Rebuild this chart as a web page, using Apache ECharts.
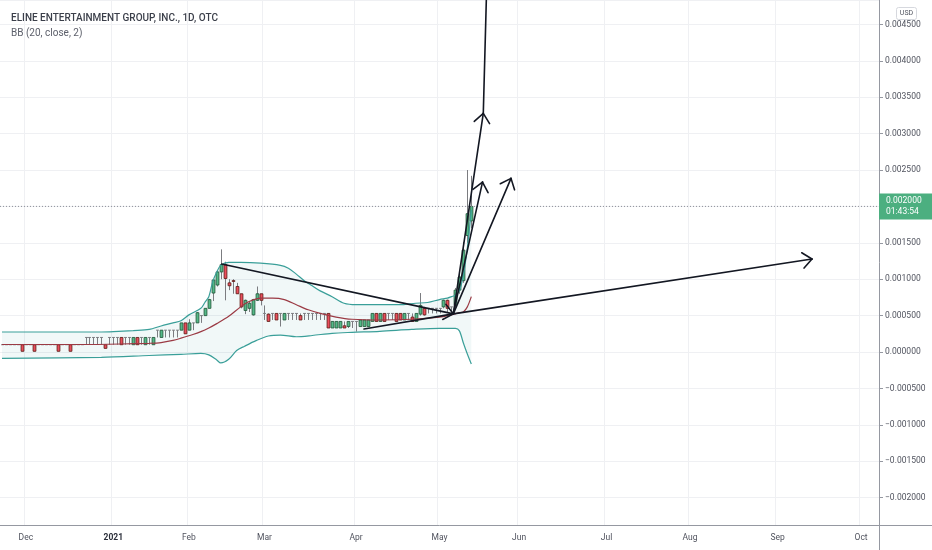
<!DOCTYPE html>
<html>
<head>
<meta charset="utf-8">
<script src="https://cdn.jsdelivr.net/npm/echarts@6/dist/echarts.min.js"></script>
<style>
  html, body { margin: 0; padding: 0; background: #fff; }
  #chart { width: 932px; height: 550px; }
</style>
</head>
<body>
<div id="chart"></div>
<script>
// trading calendar (weekdays minus exchange holidays)
const firstDay = '2020-11-20';
const barCount = 221;
const holidays = ['2020-11-26', '2020-12-25', '2021-01-01', '2021-01-18', '2021-02-15',
  '2021-04-02', '2021-05-31', '2021-07-05', '2021-09-06'];

const monthStarts = ['2020-12-01', '2021-01-04', '2021-02-01', '2021-03-01', '2021-04-01', '2021-05-03',
  '2021-06-01', '2021-07-01', '2021-08-02', '2021-09-01', '2021-10-01'];
const monthLabels = ['Dec', '2021', 'Feb', 'Mar', 'Apr', 'May', 'Jun', 'Jul', 'Aug', 'Sep', 'Oct'];

// daily OHLC from 2020-11-20
const opens = [
  .0001, .0001, .0001, .0001, .0001, .0001, .0001, .0001, .0001, .0001,
  .0001, .0001, .0001, .0001, .0001, .0001, .0001, .0001, .0001, .0001,
  .0001, .0002, .0002, .0002, .0002, .0002, .0001, .0002, .0002, .0002,
  .0002, .0002, .0002, .0001, .0002, .0002, .0001, .0002, .0001, .0003,
  .0002, .0003, .0003, .0003, .0003, .0003, .0004, .0003, .0004, .0004,
  .0005, .0005, .0006, .00081, .00092, .0011, .0012, .00095, .00098, .0009,
  .0008, .00057, .0006, .00051, .00071, .0008, .00053, .00052, .00053, .00053,
  .00053, .00044, .00053, .00053, .00053, .0005, .00053, .00053, .00053, .00053,
  .00053, .00053, .00053, .00033, .00033, .00033, .00036, .00035, .00042, .00042,
  .00035, .00035, .00035, .00042, .00053, .00042, .00053, .00053, .00053, .00053,
  .00053, .00044, .00053, .00048, .00042, .00052, .0006, .0006, .0006, .0006,
  .0006, .00062, .00071, .00062, .00065, .00085, .00098, .0016, .0018
];
const highs = [
  .0001, .0001, .0001, .0001, .0001, .0001, .0001, .0001, .0001, .0001,
  .0001, .0001, .0001, .0001, .0001, .0001, .0001, .0001, .0001, .0001,
  .0001, .0002, .0002, .0002, .0002, .0002, .0001, .0002, .0002, .0002,
  .0002, .0002, .0002, .0002, .0002, .0002, .0002, .0002, .0002, .0003,
  .0003, .0003, .0003, .0003, .0003, .0004, .0004, .00045, .0004, .00055,
  .0005, .0006, .00073, .001, .00112, .00141, .00124, .001, .001, .00095,
  .0008, .00072, .0007, .00073, .0009, .0008, .00064, .00053, .00053, .00053,
  .00053, .00053, .00053, .00053, .00053, .00053, .00053, .00053, .00053, .00053,
  .00053, .00053, .00053, .00042, .00042, .00042, .00042, .00042, .00042, .00042,
  .00044, .00044, .00044, .00053, .00053, .00053, .00053, .00053, .00053, .00053,
  .00053, .00053, .00053, .00053, .00053, .00081, .00062, .0006, .0006, .0006,
  .0006, .00072, .00072, .00062, .00088, .00106, .00151, .0025, .00242
];
const lows = [
  .0001, .0001, .0001, .0001, .0001, .00001, .0001, .0001, .00001, .0001,
  .0001, .0001, .0001, .0001, .00001, .0001, .0001, .00001, .0001, .0001,
  .0001, .0001, .0001, .0001, .0001, .0001, .00005, .0001, .0001, .0001,
  .0001, .0001, .0001, .0001, .0001, .0001, .0001, .0001, .0001, .0002,
  .0002, .0002, .0002, .0002, .0002, .0003, .00025, .0003, .0003, .0004,
  .0004, .0005, .0006, .0007, .0009, .001, .00071, .00085, .0008, .0008,
  .0006, .00052, .00055, .0005, .0007, .00064, .00044, .00042, .00044, .00044,
  .00035, .00044, .00044, .00044, .00044, .00044, .00044, .00044, .00044, .00044,
  .00044, .00044, .00033, .00033, .00033, .00033, .00033, .00033, .00033, .00028,
  .00035, .00035, .00035, .00042, .00042, .00042, .00042, .00044, .00044, .00042,
  .00044, .00044, .00044, .00042, .00042, .0005, .0005, .00053, .00053, .00053,
  .00053, .0006, .00055, .00052, .00062, .0008, .00095, .0015, .0017
];
const closes = [
  .0001, .0001, .0001, .0001, .0001, .00001, .0001, .0001, .00001, .0001,
  .0001, .0001, .0001, .0001, .00001, .0001, .0001, .00001, .0001, .0001,
  .0001, .0002, .0002, .0002, .0002, .0002, .00005, .0002, .0002, .0002,
  .0001, .0002, .0002, .0002, .0001, .0002, .0002, .0002, .0002, .0003,
  .0003, .0003, .0003, .0003, .0003, .0004, .00025, .0004, .0004, .00054,
  .0005, .0006, .00072, .00099, .0011, .0012, .00101, .00091, .00097, .0008,
  .00062, .00071, .00067, .00072, .0008, .00071, .00053, .00042, .00053, .00044,
  .00053, .00053, .00053, .00053, .00053, .00044, .00053, .00053, .00053, .00053,
  .00053, .00053, .00033, .00042, .00042, .00042, .00033, .00042, .00042, .00042,
  .00044, .00044, .00044, .00053, .00042, .00053, .00042, .00053, .00053, .00042,
  .00044, .00053, .00053, .00042, .00053, .00064, .00051, .0006, .0006, .0006,
  .0006, .00071, .0006, .00062, .00085, .00103, .0014, .0019, .002
];

// Bollinger Bands (20, close, 2) read at [bar, price]
const bbUpper = [[0, .000275], [10, .000275], [20, .000275], [25, .000275], [28, .00028], [33, .000295],
  [37, .00031], [40, .000357], [43, .0004], [45, .00043], [47, .00051], [50, .0006], [51, .00068],
  [52, .00076], [53, .00097], [54, .0011], [55, .00119], [57, .00123], [60, .00123], [65, .00122],
  [70, .00119], [72, .00115], [74, .00107], [76, .00098], [78, .00091], [80, .00084], [83, .00076],
  [86, .00067], [89, .00065], [95, .00065], [100, .00065], [104, .00067], [107, .00068], [110, .00072],
  [112, .00074], [113, .00076], [114, .00078], [115, .00084], [116, .00106], [117, .00143], [118, .00195]];
const bbBasis = [[0, .000103], [20, .000103], [30, .00011], [37, .00012], [40, .00013], [43, .00016],
  [45, .00019], [48, .00024], [50, .00028], [52, .00033], [54, .00039], [57, .00049], [60, .00062],
  [62, .00069], [65, .00074], [68, .00074], [71, .00072], [74, .00065], [77, .00058], [80, .00053],
  [84, .00048], [88, .00045], [95, .00044], [103, .00045], [110, .00048], [113, .00051], [115, .00054],
  [116, .00055], [117, .00062], [118, .00076]];
const bbLower = [[0, -.000087], [25, -.000073], [37, -.000048], [45, -.000032], [50, -.00002],
  [52, -.00004], [54, -.00011], [55, -.00015], [57, -.0001], [59, .00002], [61, .00008], [64, .00016],
  [67, .00022], [70, .000233], [74, .00021], [78, .000227], [83, .000257], [88, .00027], [95, .000284],
  [103, .00031], [110, .000325], [114, .000325], [115, .00029], [116, .000124], [117, -.000027],
  [118, -.000165]];

// hand drawn trend lines: [fromBar, fromPrice, toBar, toPrice, arrowHead]
const arrows = [
  [55.24, .001208, 113.47, .000524, 1],
  [91.02, .000316, 113.47, .000524, 0],
  [113.47, .000524, 203.65, .001277, 1],
  [113.47, .000524, 121.01, .003277, 1],
  [121.01, .003277, 121.77, .00483, 0],
  [113.47, .000524, 120.81, .002334, 1],
  [113.47, .000524, 127.98, .002385, 1]
];

const countdown = '01:43:54';
const yMin = -0.002376;
const yMax = 0.004835;

const dates = [];
const day = new Date(firstDay + 'T00:00:00Z');
while (dates.length < barCount) {
  const s = day.toISOString().slice(0, 10);
  const wd = day.getUTCDay();
  if (wd !== 0 && wd !== 6 && holidays.indexOf(s) < 0) dates.push(s);
  day.setUTCDate(day.getUTCDate() + 1);
}
const labelOf = {};
monthStarts.forEach((s, i) => { labelOf[s] = monthLabels[i]; });
const isMonthStart = (i, v) => labelOf[v] !== undefined;

const candles = opens.map((o, i) => [i, o, closes[i], lows[i], highs[i]]);
const lastPrice = closes[closes.length - 1];
const priceLine = [[-0.5, lastPrice], [barCount - 0.5, lastPrice]];

const axisGray = '#9598a1';
const gridColor = '#eff0f3';
const textGray = '#50535e';

function renderCandle(params, api) {
  const i = api.value(0);
  const o = api.value(1), c = api.value(2), l = api.value(3), h = api.value(4);
  const pO = api.coord([i, o]);
  const pC = api.coord([i, c]);
  const pL = api.coord([i, l]);
  const pH = api.coord([i, h]);
  const w = api.size([1, 0])[0] * 0.72;
  const x = Math.round(pO[0]) + 0.5;
  const children = [];
  if (pL[1] - pH[1] > 0.5) {
    children.push({ type: 'line', shape: { x1: x, y1: pH[1], x2: x, y2: pL[1] },
      style: { stroke: '#7b7c80', lineWidth: 1 } });
  }
  if (o === c) {
    children.push({ type: 'line', shape: { x1: x - w / 2, y1: pO[1], x2: x + w / 2, y2: pO[1] },
      style: { stroke: '#7b7c80', lineWidth: 1 } });
  } else {
    const up = c > o;
    children.push({ type: 'rect',
      shape: { x: x - w / 2, y: Math.min(pO[1], pC[1]), width: w, height: Math.abs(pO[1] - pC[1]) },
      style: { fill: up ? '#53b987' : '#eb4d5c', stroke: up ? '#225437' : '#5b1a13', lineWidth: 0.8 } });
  }
  return { type: 'group', children: children };
}

function renderBand(params, api) {
  const pts = bbUpper.map(p => api.coord(p))
    .concat(bbLower.slice().reverse().map(p => api.coord(p)));
  return { type: 'polygon', shape: { points: pts }, style: { fill: 'rgba(19,132,132,0.06)' } };
}

function renderArrow(params, api) {
  const a = api.coord([api.value(0), api.value(1)]);
  const b = api.coord([api.value(2), api.value(3)]);
  const pen = () => ({ stroke: '#131722', lineWidth: 1.6, lineCap: 'round' });
  const children = [{ type: 'line', shape: { x1: a[0], y1: a[1], x2: b[0], y2: b[1] }, style: pen() }];
  if (api.value(4)) {
    const back = Math.atan2(a[1] - b[1], a[0] - b[0]);
    [-0.7, 0.7].forEach(t => {
      children.push({ type: 'line',
        shape: { x1: b[0], y1: b[1], x2: b[0] + 12 * Math.cos(back + t), y2: b[1] + 12 * Math.sin(back + t) },
        style: pen() });
    });
  }
  return { type: 'group', children: children };
}

const chart = echarts.init(document.getElementById('chart'), null, { renderer: 'canvas' });

chart.setOption({
  animation: false,
  backgroundColor: '#ffffff',
  textStyle: { fontFamily: 'Roboto' },
  title: [
    { text: 'ELINE ENTERTAINMENT GROUP, INC., 1D, OTC', left: 6, top: 8,
      textStyle: { fontFamily: 'Roboto', fontSize: 10, fontWeight: 500, color: '#3b3f4a' } },
    { text: 'BB (20, close, 2)', left: 6, top: 23,
      textStyle: { fontFamily: 'Roboto', fontSize: 10, fontWeight: 'normal', color: '#5d606b' } }
  ],
  grid: { left: 0, right: 53, top: 0, bottom: 25, containLabel: false, outerBoundsMode: 'none' },
  xAxis: [
    {
      type: 'category',
      data: dates,
      boundaryGap: true,
      axisLine: { onZero: false, lineStyle: { color: axisGray } },
      axisTick: { interval: isMonthStart, alignWithLabel: true, length: 4, lineStyle: { color: axisGray } },
      axisLabel: {
        interval: isMonthStart,
        margin: 8,
        fontSize: 8.5,
        color: textGray,
        formatter: v => labelOf[v] === '2021' ? '{b|2021}' : (labelOf[v] || ''),
        rich: { b: { fontSize: 8.5, fontWeight: 'bold', color: '#2a2e39' } }
      },
      splitLine: { show: true, interval: isMonthStart, lineStyle: { color: gridColor } }
    },
    { type: 'value', min: -0.5, max: barCount - 0.5, show: false, axisLine: { onZero: false } }
  ],
  yAxis: {
    type: 'value',
    position: 'right',
    min: yMin,
    max: yMax,
    splitNumber: 14,
    axisLine: { show: true, onZero: false, lineStyle: { color: axisGray } },
    axisTick: { show: true, length: 4, lineStyle: { color: axisGray } },
    axisLabel: {
      margin: 6,
      fontSize: 8.5,
      color: textGray,
      showMinLabel: false,
      showMaxLabel: false,
      formatter: v => {
        if (Math.abs(v) < 1e-12) v = 0;
        return (v < 0 ? '\u2212' : '') + Math.abs(v).toFixed(6);
      }
    },
    splitLine: { show: true, lineStyle: { color: gridColor } }
  },
  graphic: [
    { type: 'line', silent: true, shape: { x1: 879, y1: 525.5, x2: 932, y2: 525.5 },
      style: { stroke: axisGray, lineWidth: 1 } },
    { type: 'line', silent: true, shape: { x1: 879.5, y1: 525, x2: 879.5, y2: 550 },
      style: { stroke: axisGray, lineWidth: 1 } },
    { type: 'group', left: 896, top: 7, children: [
      { type: 'rect', shape: { x: 0, y: 0, width: 20, height: 12, r: 2 },
        style: { fill: '#fff', stroke: '#d6d8de', lineWidth: 1 } },
      { type: 'text', style: { text: 'USD', x: 10, y: 6, align: 'center', verticalAlign: 'middle',
        fontSize: 7, fontFamily: 'Roboto', fill: textGray } }
    ] }
  ],
  series: [
    {
      name: 'BB fill',
      type: 'custom',
      silent: true,
      data: [[0, 0]],
      encode: { x: 0, y: 1 },
      renderItem: renderBand,
      z: 1
    },
    {
      name: 'Last price',
      type: 'line',
      xAxisIndex: 1,
      data: priceLine,
      showSymbol: false,
      silent: true,
      lineStyle: { color: '#8d9099', type: [1, 2], width: 1 },
      endLabel: {
        show: true,
        distance: 0,
        formatter: () => lastPrice.toFixed(6) + '\n' + countdown,
        backgroundColor: '#4caf80',
        color: '#ffffff',
        fontSize: 8.5,
        lineHeight: 11,
        padding: [2, 11, 2, 7]
      },
      z: 2
    },
    {
      name: 'Price',
      type: 'custom',
      data: candles,
      encode: { x: 0, y: [1, 2, 3, 4] },
      renderItem: renderCandle,
      z: 2
    },
    {
      name: 'Upper',
      type: 'line',
      data: bbUpper,
      showSymbol: false,
      smooth: 0.3,
      lineStyle: { color: '#3a9f99', width: 1.2 },
      z: 3
    },
    {
      name: 'Lower',
      type: 'line',
      data: bbLower,
      showSymbol: false,
      smooth: 0.3,
      lineStyle: { color: '#3a9f99', width: 1.2 },
      z: 3
    },
    {
      name: 'Basis',
      type: 'line',
      data: bbBasis,
      showSymbol: false,
      smooth: 0.3,
      lineStyle: { color: '#9b3a44', width: 1.2 },
      z: 3
    },
    {
      name: 'Drawings',
      type: 'custom',
      xAxisIndex: 1,
      silent: true,
      data: arrows,
      encode: { x: [0, 2], y: [1, 3] },
      renderItem: renderArrow,
      z: 10
    }
  ]
});
</script>
</body>
</html>
